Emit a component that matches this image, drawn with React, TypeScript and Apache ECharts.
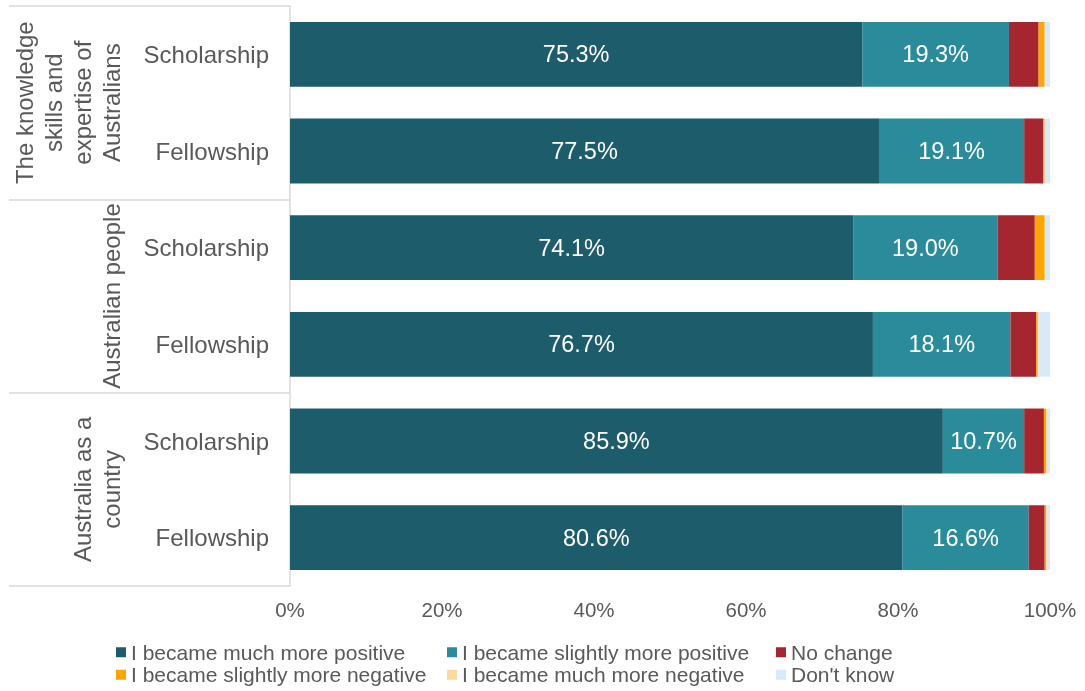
import React, { useEffect, useRef } from "react";
import * as echarts from "echarts";

const categories = ["Scholarship", "Fellowship", "Scholarship", "Fellowship", "Scholarship", "Fellowship"];
const groups = [
  "The knowledge\nskills and\nexpertise of\nAustralians",
  "Australian people",
  "Australia as a\ncountry",
];
const seriesNames = [
  "I became much more positive",
  "I became slightly more positive",
  "No change",
  "I became slightly more negative",
  "I became much more negative",
  "Don't know",
];
const muchPositive = [75.3, 77.5, 74.1, 76.7, 85.9, 80.6];
const slightlyPositive = [19.3, 19.1, 19.0, 18.1, 10.7, 16.6];
const noChange = [3.9, 2.5, 4.9, 3.4, 2.6, 2.1];
const slightlyNegative = [0.8, 0.2, 1.3, 0.2, 0.3, 0.2];
const muchNegative = [0.0, 0.0, 0.1, 0.1, 0.1, 0.1];
const dontKnow = [0.7, 0.7, 0.6, 1.5, 0.4, 0.4];
const seriesValues = [muchPositive, slightlyPositive, noChange, slightlyNegative, muchNegative, dontKnow];
const colors = ["#1d5c6b", "#2a8b9b", "#a6262f", "#ffa500", "#fdd89f", "#d6eafa"];
const showLabel = [true, true, false, false, false, false];

const FONT = "'Liberation Sans', Arial, sans-serif";
const TEXT = "#595959";

export default function App() {
  const ref = useRef<HTMLDivElement>(null);
  useEffect(() => {
    const chart = echarts.init(ref.current!, null, { renderer: "svg" });
    const legendCommon = {
      orient: "vertical",
      top: 641,
      itemGap: 0,
      itemWidth: 10,
      itemHeight: 10,
      icon: "rect",
      padding: 0,
      textStyle: { fontSize: 21, color: TEXT, lineHeight: 22.5, fontFamily: FONT },
    };
    chart.setOption({
      animation: false,
      textStyle: { fontFamily: FONT },
      grid: { left: 290, right: 35, top: 6, bottom: 105 },
      xAxis: {
        type: "value",
        min: 0,
        max: 100,
        interval: 20,
        axisLine: { show: false },
        axisTick: { show: false },
        splitLine: { show: false },
        axisLabel: { formatter: "{value}%", fontSize: 20.5, color: TEXT, margin: 13, fontFamily: FONT },
      },
      yAxis: [
        {
          type: "category",
          position: "left",
          data: categories,
          inverse: true,
          axisLine: { lineStyle: { color: "#d9d9d9", width: 1.5 } },
          axisTick: {
            show: true,
            interval: (i: number) => i % 2 === 0,
            length: 281,
            lineStyle: { color: "#d9d9d9", width: 1.5 },
          },
          axisLabel: { fontSize: 24, color: TEXT, margin: 21, interval: 0, fontFamily: FONT },
        },
        {
          type: "category",
          position: "left",
          data: groups,
          inverse: true,
          axisLine: { show: false },
          axisTick: { show: false },
          axisLabel: {
            rotate: 90,
            fontSize: 24,
            lineHeight: 29,
            color: TEXT,
            margin: 164,
            interval: 0,
            fontFamily: FONT,
          },
        },
      ],
      legend: [
        { ...legendCommon, left: 116, data: [seriesNames[0], seriesNames[3]] },
        { ...legendCommon, left: 447, data: [seriesNames[1], seriesNames[4]] },
        { ...legendCommon, left: 776, data: [seriesNames[2], seriesNames[5]] },
      ],
      series: seriesNames.map((name, k) => ({
        name,
        type: "bar",
        stack: "total",
        yAxisIndex: 0,
        barCategoryGap: "33%",
        itemStyle: { color: colors[k] },
        label: {
          show: showLabel[k],
          position: "inside",
          color: "#ffffff",
          fontSize: 23.5,
          fontFamily: FONT,
          formatter: (p: any) => Number(p.value).toFixed(1) + "%",
        },
        data: seriesValues[k],
      })),
    });
    return () => chart.dispose();
  }, []);
  return <div ref={ref} style={{ position: "fixed", left: 0, top: 0, width: 1085, height: 691 }} />;
}
